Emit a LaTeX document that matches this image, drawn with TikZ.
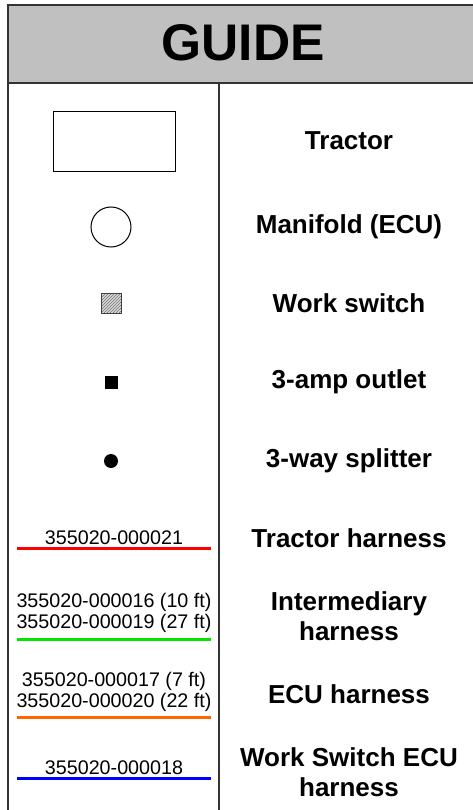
\documentclass[tikz,border=0pt]{standalone}
\usepackage{fontspec}
\setmainfont{Liberation Sans}
\usetikzlibrary{patterns}

\definecolor{headgray}{RGB}{192,192,192}
\definecolor{wireorange}{RGB}{255,102,0}
\definecolor{wiregreen}{RGB}{0,230,0}

\tikzset{
  label/.style={font=\fontsize{26}{30}\selectfont\bfseries, align=center},
  partno/.style={font=\fontsize{19.7}{20.5}\selectfont, align=center, inner sep=0pt},
  wire/.style={line width=3pt}
}

\begin{document}
\begin{tikzpicture}[x=1pt, y=-1pt]
        \useasboundingbox (0,0) rectangle (472,810);

        % Header and frame
        \draw[line width=1.6pt, fill=headgray, draw=black!80] (8,5) rectangle (480,83);
        \node[font=\fontsize{51.5}{56}\selectfont\bfseries] (title) at (243,43) {GUIDE};
        \draw[line width=1.6pt, draw=black!80] (8,83) -- (8,815);
        \draw[line width=1.6pt, draw=black!80] (219,83) -- (219,815);

        % Tractor
        \node[draw, line width=1pt, minimum width=122pt, minimum height=60pt] (tractor) at (114,142) {};
        \node[label] (tractorlbl) at (349,141) {Tractor};

        % Manifold (ECU)
        \node[draw, circle, line width=1pt, minimum size=40pt] (manifold) at (111,227) {};
        \node[label] (manifoldlbl) at (349,227) {Manifold (ECU)};

        % Work switch
        \node[draw=black!75, fill=black!15, minimum size=20pt] (switchbg) at (111,303) {};
        \node[pattern=north east lines, pattern color=black!55, minimum size=20pt, draw=black!75, line width=0.8pt] (switch) at (111,303) {};
        \node[label] (switchlbl) at (349,303) {Work switch};

        % 3-amp outlet
        \node[fill, minimum size=13pt, inner sep=0pt] (outlet) at (111,382) {};
        \node[label] (outletlbl) at (349,382) {3-amp outlet};

        % 3-way splitter
        \node[fill, circle, minimum size=14pt, inner sep=0pt] (splitter) at (111,461) {};
        \node[label] (splitterlbl) at (349,461) {3-way splitter};

        % Tractor harness
        \node[partno] (tractorno) at (114,538) {355020-000021};
        \coordinate (tractorA) at (17,548);
        \coordinate (tractorB) at (211,548);
        \draw[wire, red] (tractorA) -- (tractorB);
        \node[label] (tractorhlbl) at (349,538) {Tractor harness};

        % Intermediary harness
        \node[partno] (interno) at (114,613) {355020-000016 (10 ft)\\355020-000019 (27 ft)};
        \coordinate (interA) at (17,639);
        \coordinate (interB) at (211,639);
        \draw[wire, wiregreen] (interA) -- (interB);
        \node[label] (interlbl) at (349,616) {Intermediary\\harness};

        % ECU harness
        \node[partno] (ecuno) at (114,692) {355020-000017 (7 ft)\\355020-000020 (22 ft)};
        \coordinate (ecuA) at (17,717);
        \coordinate (ecuB) at (211,717);
        \draw[wire, wireorange] (ecuA) -- (ecuB);
        \node[label] (eculbl) at (349,694) {ECU harness};

        % Work switch ECU harness
        \node[partno] (wsno) at (114,768) {355020-000018};
        \coordinate (wsA) at (17,778);
        \coordinate (wsB) at (211,778);
        \draw[wire, blue] (wsA) -- (wsB);
        \node[label] (wslbl) at (349,772) {Work Switch ECU\\harness};
\end{tikzpicture}
\end{document}
